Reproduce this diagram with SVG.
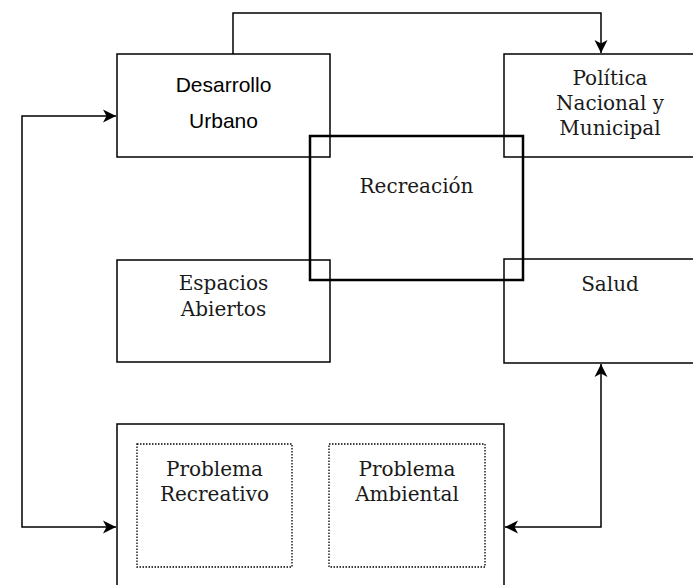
<svg xmlns="http://www.w3.org/2000/svg" width="693" height="585" viewBox="0 0 693 585">
<style>
.box{fill:none;stroke:#000;stroke-width:1.5}
.thick{fill:none;stroke:#000;stroke-width:2.5}
.dot{fill:none;stroke:#000;stroke-width:1.3;stroke-dasharray:1.5 1.5}
.conn{fill:none;stroke:#000;stroke-width:1.5}
.serif{font-family:"DejaVu Serif","Liberation Serif",serif;font-size:20px;fill:#1a1a1a;text-anchor:middle}
.sans{font-family:"Liberation Sans",Arial,sans-serif;font-size:21px;fill:#000;text-anchor:middle}
</style>
<defs>
<marker id="arr" markerUnits="userSpaceOnUse" markerWidth="16" markerHeight="16" viewBox="-14 -8 16 16" refX="0" refY="0" orient="auto-start-reverse">
<path d="M0,0 L-13,-6.5 L-9.5,0 L-13,6.5 Z" fill="#000"/>
</marker>
</defs>
<rect width="693" height="585" fill="#fff"/>
<g id="connectors">
<path class="conn" d="M233,54 V13 H601 V53" marker-end="url(#arr)"/>
<path class="conn" d="M116,116 H22 V527 H116" marker-start="url(#arr)" marker-end="url(#arr)"/>
<path class="conn" d="M601,364 V527 H505" marker-start="url(#arr)" marker-end="url(#arr)"/>
</g>
<g id="desarrollo">
<rect class="box" x="117" y="54" width="213" height="103"/>
<text class="sans" x="223.5" y="92">Desarrollo</text>
<text class="sans" x="223.5" y="128">Urbano</text>
</g>
<g id="politica">
<rect class="box" x="504" y="54" width="213" height="103"/>
<text class="serif" x="610" y="85">Política</text>
<text class="serif" x="610" y="110">Nacional y</text>
<text class="serif" x="610" y="135">Municipal</text>
</g>
<g id="espacios">
<rect class="box" x="117" y="260" width="213" height="102"/>
<text class="serif" x="223.5" y="290">Espacios</text>
<text class="serif" x="223.5" y="315.5">Abiertos</text>
</g>
<g id="salud">
<rect class="box" x="504" y="259" width="213" height="104"/>
<text class="serif" x="610" y="291">Salud</text>
</g>
<g id="problemas">
<rect class="box" x="117" y="424" width="387" height="190"/>
<g id="problema-recreativo">
<rect class="dot" x="137" y="444" width="155" height="123"/>
<text class="serif" x="214.5" y="475.5">Problema</text>
<text class="serif" x="214.5" y="500.5">Recreativo</text>
</g>
<g id="problema-ambiental">
<rect class="dot" x="329" y="444" width="156" height="123"/>
<text class="serif" x="407" y="475.5">Problema</text>
<text class="serif" x="407" y="500.5">Ambiental</text>
</g>
</g>
<g id="recreacion">
<rect class="thick" x="310" y="136" width="213" height="144"/>
<text class="serif" x="416.5" y="193">Recreación</text>
</g>
</svg>
